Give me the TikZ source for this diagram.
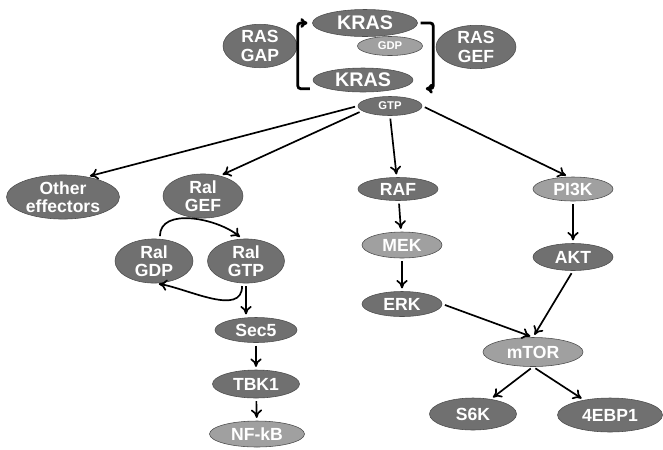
\documentclass[tikz,border=0pt]{standalone}
\usepackage{fontspec}
\setmainfont{Liberation Sans}
\usepackage{tikz}
\usetikzlibrary{shapes.geometric}
\usetikzlibrary{arrows.meta}

\definecolor{protdark}{HTML}{707070}
\definecolor{protlight}{HTML}{A0A0A0}

\begin{document}
\begin{tikzpicture}[x=0.025cm, y=-0.025cm,
    dark/.style={ellipse, draw=black!70, fill=protdark, text=white, inner sep=0pt,
        align=center, font=\bfseries\fontsize{12.5}{13}\selectfont},
    light/.style={dark, fill=protlight},
    arr/.style={-{To[length=6pt,width=8pt]}, line width=1.2pt, shorten <=2pt, shorten >=2pt},
    brk/.style={-{To[length=5pt,width=7pt]}, line width=2pt, rounded corners=2pt}]
    \useasboundingbox (0,0) rectangle (663,449);
    % KRAS cycle
    \node[dark, minimum width=105*0.025cm, minimum height=27*0.025cm,
        font=\bfseries\fontsize{14}{15}\selectfont] (krasa) at (365,23) {KRAS};
    \node[light, minimum width=65*0.025cm, minimum height=19*0.025cm,
        font=\bfseries\fontsize{8}{9}\selectfont] (gdp) at (390,46) {GDP};
    \node[dark, minimum width=100*0.025cm, minimum height=24*0.025cm,
        font=\bfseries\fontsize{14}{15}\selectfont] (krasb) at (363,80) {KRAS};
    \node[dark, minimum width=64*0.025cm, minimum height=19*0.025cm,
        font=\bfseries\fontsize{8}{9}\selectfont] (gtp) at (390,106) {GTP};
    % effectors
    \foreach \st/\nm/\px/\py/\w/\h/\txt in {
        dark/rasgap/260/46/74/42/{RAS\\GAP}, dark/rasgef/476/47/80/42/{RAS\\GEF},
        dark/other/63/197/113/38/{Other\\effectors}, dark/ralgef/203/196/80/38/{Ral\\GEF},
        dark/ralgdp/154/261/78/38/{Ral\\GDP}, dark/ralgtp/246/261/77/40/{Ral\\GTP},
        dark/sec/256/330/82/25/Sec5, dark/tbk/256/384/87/28/TBK1,
        light/nfkb/257/434/95/26/NF-kB,
        dark/raf/398/189/80/23/RAF, light/mek/402/245/80/26/MEK,
        dark/erk/402/304/80/25/ERK,
        light/pik/573/189/80/24/PI3K, dark/akt/573/257/80/27/AKT,
        light/mtor/533/352/100/29/mTOR,
        dark/sk/473/414/87/32/S6K, dark/ebp/610/415/105/34/4EBP1} {
        \node[\st, minimum width=\w*0.025cm, minimum height=\h*0.025cm] (\nm) at (\px,\py) {\txt};
    }
    % brackets
    \draw[brk] ([xshift=-0.44cm]krasb.south west) -| ([xshift=-0.36cm]krasa.west)
        -- ([xshift=-0.12cm]krasa.west);
    \draw[brk] ([xshift=0.07cm]krasa.east) -| ([xshift=0.865cm]krasb.south east)
        -- ([xshift=0.68cm]krasb.south east);
    % from GTP
    \draw[arr] (gtp.west) -- (other.40);
    \draw[arr] (gtp.190) -- (ralgef.50);
    \draw[arr] (gtp.south) -- (raf);
    \draw[arr] (gtp.east) -- (pik.110);
    % Ral cycle
    \draw[arr] (ralgdp.75) to[out=90, in=140] (ralgtp.100);
    \draw[arr] (ralgtp.-100) to[out=-90, in=-10] (ralgdp.-85);
    \draw[arr] (ralgtp.south) -- (ralgtp.south |- sec.north);
    \draw[arr] (sec) -- (tbk);
    \draw[arr] (tbk) -- (nfkb);
    % MAPK and PI3K
    \draw[arr] (raf) -- (mek);
    \draw[arr] (mek) -- (erk);
    \draw[arr] (pik) -- (akt);
    \draw[arr] (erk.east) -- (mtor.north);
    \draw[arr] (akt.south) -- (mtor.north);
    \draw[arr] (mtor.south) -- (sk.40);
    \draw[arr] (mtor.south) -- (ebp.150);
\end{tikzpicture}
\end{document}
